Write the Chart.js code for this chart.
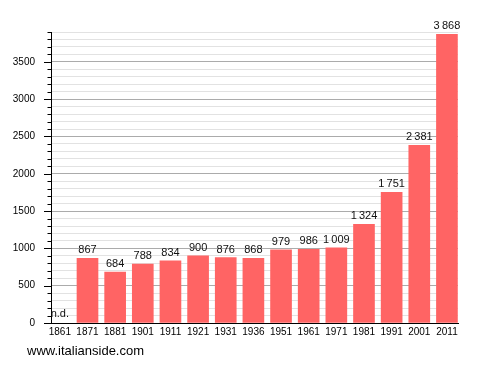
<!DOCTYPE html>
<html>
<head>
<meta charset="utf-8">
<script src="https://cdn.jsdelivr.net/npm/chart.js@4/dist/chart.umd.min.js"></script>
<style>
html,body{margin:0;padding:0;background:#fff;}
canvas{display:block;}
</style>
</head>
<body>
<canvas id="c" width="488" height="373"></canvas>
<script>
const years = ['1861','1871','1881','1901','1911','1921','1931','1936','1951','1961','1971','1981','1991','2001','2011'];
const population = [null, 867, 684, 788, 834, 900, 876, 868, 979, 986, 1009, 1324, 1751, 2381, 3868];
const missingLabel = 'n.d.';
const footerText = 'www.italianside.com';
const yMax = 3900;
const yStep = 100;
const yLabelStep = 500;

const FONT = '"Liberation Sans", Arial, sans-serif';

function fmt(v){
  const s = String(v);
  if (v >= 1000) return s.slice(0, s.length-3) + '\u2009' + s.slice(s.length-3);
  return s;
}

const overlay = {
  id: 'overlay',
  afterDraw(chart){
    const ctx = chart.ctx;
    const xs = chart.scales.x, ys = chart.scales.y;
    const area = chart.chartArea;
    ctx.save();
    // y tick marks
    ctx.strokeStyle = '#000';
    ctx.lineWidth = 1;
    ctx.beginPath();
    for (let v = 0; v <= yMax; v += yStep){
      const y = Math.round(ys.getPixelForValue(v)) + 0.5;
      const len = (v % yLabelStep === 0) ? 7 : 3.5;
      ctx.moveTo(area.left - len, y);
      ctx.lineTo(area.left, y);
    }
    ctx.stroke();
    // value labels
    ctx.fillStyle = '#111';
    ctx.font = '11px ' + FONT;
    ctx.textAlign = 'center';
    ctx.textBaseline = 'alphabetic';
    const meta = chart.getDatasetMeta(0);
    population.forEach((v, i) => {
      const x = xs.getPixelForValue(i);
      if (v === null){
        ctx.fillText(missingLabel, x, ys.getPixelForValue(0) - 6);
      } else {
        const bar = meta.data[i];
        ctx.fillText(fmt(v), bar.x, bar.y - 5);
      }
    });
    // footer
    ctx.textAlign = 'left';
    ctx.font = '13px ' + FONT;
    ctx.fillStyle = '#000';
    ctx.fillText(footerText, 27, 355);
    ctx.restore();
  }
};

new Chart(document.getElementById('c'), {
  type: 'bar',
  data: {
    datasets: [{
      data: population.map((v, i) => ({x: i, y: v})),
      backgroundColor: '#ff6464',
      borderWidth: 0,
      barThickness: 21
    }]
  },
  options: {
    responsive: false,
    animation: false,
    events: [],
    layout: { padding: { top: 32, right: 30, left: 0, bottom: 0 } },
    plugins: { legend: {display: false}, tooltip: {enabled: false}, title: {display: false} },
    scales: {
      x: {
        type: 'linear',
        offset: false,
        min: -0.32,
        max: 14.4,
        afterBuildTicks(axis){ axis.ticks = years.map((_, i) => ({value: i})); },
        afterFit(axis){ axis.height = 50; },
        grid: { display: false, drawTicks: false, offset: false },
        border: { display: true, color: '#000', width: 1 },
        ticks: {
          autoSkip: false,
          maxRotation: 0,
          padding: 3,
          color: '#000',
          font: { family: FONT, size: 10 },
          callback: (v) => years[v] !== undefined ? years[v] : ''
        }
      },
      y: {
        min: 0,
        max: yMax,
        afterFit(axis){ axis.width = 51; },
        grid: {
          drawTicks: false,
          color: (c) => (c.tick && c.tick.value % yLabelStep === 0) ? '#ababab' : '#e2e2e2',
          lineWidth: 1
        },
        border: { display: true, color: '#000', width: 1 },
        ticks: {
          stepSize: yStep,
          autoSkip: false,
          padding: 16,
          color: '#000',
          font: { family: FONT, size: 10 },
          callback: (v) => (v % yLabelStep === 0) ? String(v) : ''
        }
      }
    }
  },
  plugins: [overlay]
});
</script>
</body>
</html>
